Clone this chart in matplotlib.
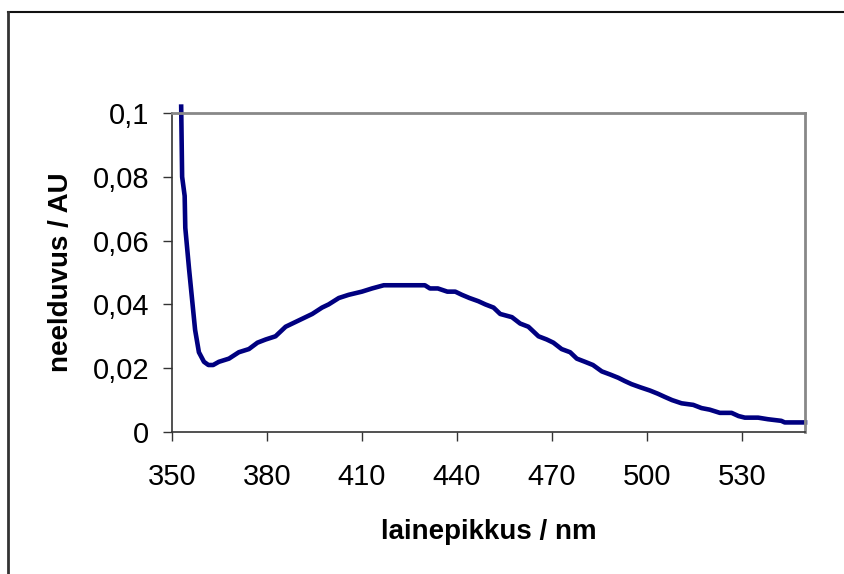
import matplotlib
matplotlib.use("Agg")
import matplotlib.pyplot as plt
from matplotlib.ticker import FuncFormatter
from matplotlib.lines import Line2D

plt.rcParams['font.family'] = ['Liberation Sans', 'DejaVu Sans']

# aallonpituus (nm) ja absorbanssi luettu kuvasta
wavelength = [352.9, 353.2, 354.0, 354.2, 355.4, 356.9, 357.3, 358.5, 360.1, 361.5,
              363.0, 364.8, 368.0, 371.1, 374.3, 377.0, 379.6, 382.7, 385.9, 388.0,
              390.1, 394.3, 397.4, 399.5, 402.7, 405.8, 410.0, 413.2, 416.9, 420.0,
              425.0, 429.9, 431.5, 434.0, 437.0, 439.5, 441.6, 444.0, 446.8, 449.0,
              451.6, 453.7, 457.4, 460.0, 462.6, 465.8, 468.4, 470.5, 473.1, 475.8,
              477.9, 480.5, 483.0, 485.8, 488.5, 491.0, 493.0, 495.2, 498.0, 501.0,
              503.5, 505.7, 508.0, 511.0, 514.7, 517.3, 519.9, 523.1, 526.8, 529.0,
              531.0, 535.2, 538.3, 542.5, 543.6, 550.0]
absorbance = [0.102, 0.080, 0.074, 0.064, 0.051, 0.036, 0.032, 0.025, 0.022, 0.021,
              0.021, 0.022, 0.023, 0.025, 0.026, 0.028, 0.029, 0.030, 0.033, 0.034,
              0.035, 0.037, 0.039, 0.040, 0.042, 0.043, 0.044, 0.045, 0.046, 0.046,
              0.046, 0.046, 0.045, 0.045, 0.044, 0.044, 0.043, 0.042, 0.041, 0.040,
              0.039, 0.037, 0.036, 0.034, 0.033, 0.030, 0.029, 0.028, 0.026, 0.025,
              0.023, 0.022, 0.021, 0.019, 0.018, 0.017, 0.016, 0.015, 0.014, 0.013,
              0.012, 0.011, 0.010, 0.009, 0.0085, 0.0075, 0.007, 0.006, 0.006, 0.005,
              0.0045, 0.0045, 0.004, 0.0035, 0.003, 0.003]
xticks = [350, 380, 410, 440, 470, 500, 530]
yticks = [0, 0.02, 0.04, 0.06, 0.08, 0.1]

fig = plt.figure(figsize=(8.45, 5.74), dpi=100)
ax = fig.add_axes([172 / 845, 142 / 574, 633 / 845, 319 / 574])

ax.plot(wavelength, absorbance, color='#000080', lw=3.3, clip_on=False, solid_joinstyle='round')

ax.set_xlim(350, 550)
ax.set_ylim(0, 0.1)
ax.set_xticks(xticks)
ax.set_yticks(yticks)
ax.yaxis.set_major_formatter(FuncFormatter(lambda v, p: f"{v:g}".replace('.', ',')))

ax.tick_params(direction='out', length=6.5, width=1, labelsize=21, color='#333333')
ax.tick_params(axis='x', pad=15.5)
ax.tick_params(axis='y', pad=10)

for s in ['left', 'bottom']:
    ax.spines[s].set_color('#333333')
    ax.spines[s].set_linewidth(1.2)
for s in ['top', 'right']:
    ax.spines[s].set_color('#888888')
    ax.spines[s].set_linewidth(2)

ax.set_xlabel('lainepikkus / nm', fontsize=20, fontweight='bold')
ax.set_ylabel('neelduvus / AU', fontsize=20, fontweight='bold')
ax.xaxis.set_label_coords(0.5, -0.272)
ax.yaxis.set_label_coords(-0.155, 0.5)

# kaavion reunaviiva
fig.add_artist(Line2D([8 / 845, 1], [1 - 12 / 574, 1 - 12 / 574], color='#111111', lw=1.5))
fig.add_artist(Line2D([8 / 845, 8 / 845], [0, 1 - 12 / 574], color='#333333', lw=2))

fig.savefig('out.png', dpi=100)
